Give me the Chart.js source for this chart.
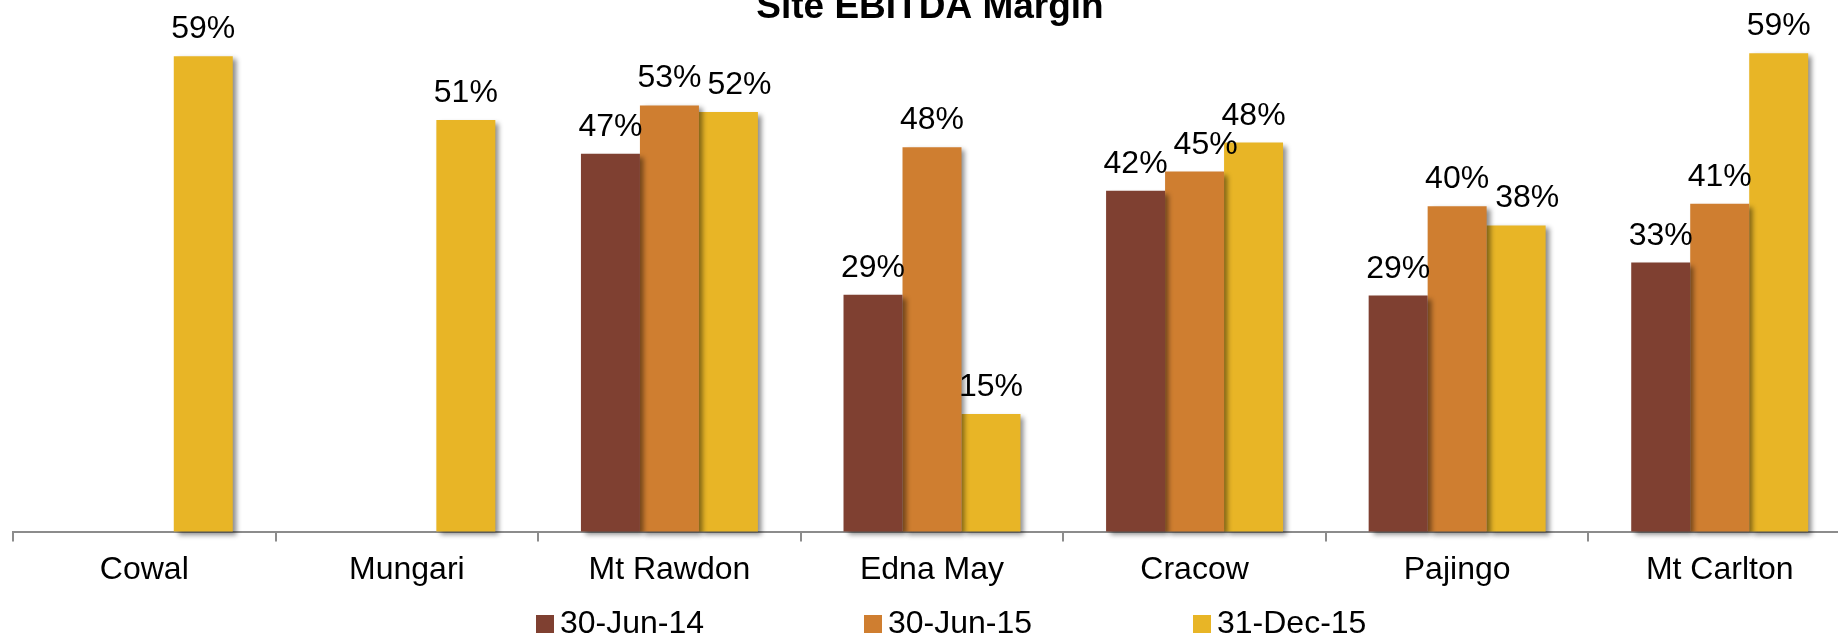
<!DOCTYPE html>
<html><head><meta charset="utf-8">
<script src="https://cdn.jsdelivr.net/npm/chart.js@4/dist/chart.umd.min.js"></script>
<style>
html,body{margin:0;padding:0;background:#fff;overflow:hidden;width:1838px;height:636px}
#wrap{position:absolute;left:0;top:0;width:1864px;height:636px}
canvas{display:block}
</style>
</head><body><div id="wrap"><canvas id="c" width="1864" height="636"></canvas></div>
<script>
const categories = ['Cowal','Mungari','Mt Rawdon','Edna May','Cracow','Pajingo','Mt Carlton'];
const seriesNames = ['30-Jun-14','30-Jun-15','31-Dec-15'];
const jun14 = [null, null, 46.9, 29.4, 42.3, 29.3, 33.4];
const jun15 = [null, null, 52.9, 47.7, 44.7, 40.4, 40.7];
const dec15 = [59.0, 51.1, 52.1, 14.6, 48.3, 38.0, 59.4];
const seriesColors = ['#7F4031', '#CF7E30', '#E8B526'];
const chartTitle = 'Site EBITDA Margin';

const FONT = '"Liberation Sans", Arial, sans-serif';

const shadowAndLabels = {
  id: 'shadowAndLabels',
  beforeDatasetsDraw(chart) {
    const ctx = chart.ctx;
    ctx.save();
    ctx.shadowColor = 'rgba(0,0,0,0.45)';
    ctx.shadowBlur = 5;
    ctx.shadowOffsetX = 4;
    ctx.shadowOffsetY = 3;
  },
  afterDatasetsDraw(chart) {
    const ctx = chart.ctx;
    ctx.restore();
    ctx.save();
    ctx.font = '32px ' + FONT;
    ctx.fillStyle = '#000';
    ctx.textAlign = 'center';
    ctx.textBaseline = 'alphabetic';
    const n = chart.data.labels.length;
    for (let j = 0; j < n; j++) {
      let prev = null;
      chart.data.datasets.forEach((ds, i) => {
        const v = ds.data[j];
        if (v == null) return;
        const bar = chart.getDatasetMeta(i).data[j];
        const txt = Math.round(v) + '%';
        const w = ctx.measureText(txt).width;
        let cx = bar.x;
        const y = bar.y - 18;
        if (prev && Math.abs(prev.y - y) < 24) {
          const need = (prev.x + prev.w / 2 + 6) - (cx - w / 2);
          if (need > 0) cx += need;
        }
        ctx.fillText(txt, cx, y);
        prev = { x: cx, y: y, w: w };
      });
    }
    ctx.restore();
  }
};

const titleLegend = {
  id: 'titleLegend',
  afterDraw(chart) {
    const ctx = chart.ctx;
    ctx.save();
    ctx.fillStyle = '#000';
    ctx.font = 'bold 37px ' + FONT;
    ctx.textAlign = 'center';
    ctx.textBaseline = 'alphabetic';
    ctx.fillText(chartTitle, 930, 18);
    ctx.font = '32px ' + FONT;
    ctx.textAlign = 'left';
    const starts = [536, 864, 1193];
    chart.data.datasets.forEach((ds, i) => {
      const x = starts[i];
      ctx.fillStyle = ds.backgroundColor;
      ctx.fillRect(x, 615, 18, 18);
      ctx.fillStyle = '#000';
      ctx.fillText(ds.label, x + 24, 633);
    });
    ctx.restore();
  }
};

const seriesData = [jun14, jun15, dec15];
new Chart(document.getElementById('c'), {
  type: 'bar',
  data: {
    labels: categories,
    datasets: seriesData.map((d, i) => ({
      label: seriesNames[i],
      data: d,
      backgroundColor: seriesColors[i],
      borderWidth: 0,
      barPercentage: 1,
      categoryPercentage: 0.674,
      clip: false
    }))
  },
  options: {
    responsive: false,
    animation: false,
    devicePixelRatio: 1,
    layout: { padding: { left: 13, right: 13, top: 0, bottom: 0 } },
    plugins: { legend: { display: false }, title: { display: false }, tooltip: { enabled: false } },
    scales: {
      x: {
        offset: true,
        grid: { display: true, drawOnChartArea: false, drawTicks: true, tickLength: 10, color: '#8c8c8c', lineWidth: 2, offset: true },
        border: { display: true, color: '#8c8c8c', width: 2 },
        ticks: { color: '#000', font: { family: FONT, size: 32 }, padding: 9, maxRotation: 0, autoSkip: false },
        afterFit(s) { s.height = 104.5; }
      },
      y: { display: false, min: 0, max: 66 }
    }
  },
  plugins: [shadowAndLabels, titleLegend]
});
</script>
</body></html>
